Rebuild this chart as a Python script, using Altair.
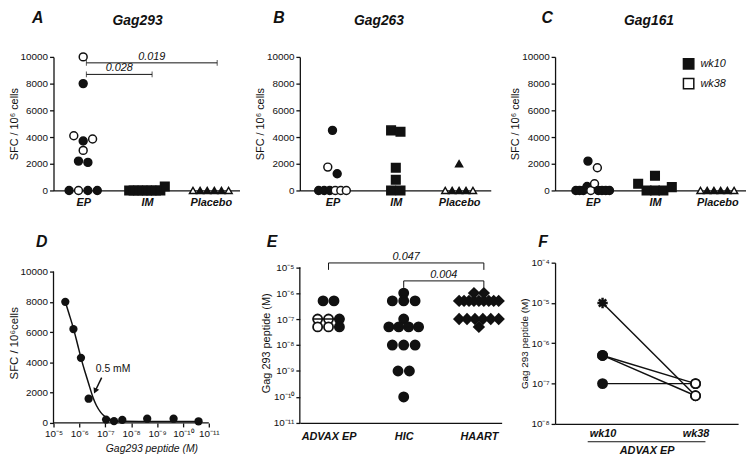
import math
import statistics
import altair as alt
import pandas as pd

FONT = "Liberation Sans"
INK = "#111111"

# ---------------- data ----------------
CATS_ABC = ["EP", "IM", "Placebo"]

A_EP = [10000, 8000, 4100, 3700, 3850, 3000, 2200, 2100, 0, 0, 0, 0]
A_EP_WK = ["wk38", "wk10", "wk38", "wk10", "wk38", "wk38", "wk10", "wk10", "wk10", "wk38", "wk10", "wk10"]
A_IM = [0, 0, 0, 0, 0, 0, 0, 0, 300]
A_IM_WK = ["wk10"] * 9
A_PL = [0, 0, 0, 0, 0, 0]
A_PL_WK = ["wk38", "wk10", "wk10", "wk10", "wk10", "wk38"]
A_BR_FROM = [0.05, 0.05]
A_BR_TO = [1.08, 2.1]
A_BR_Y = [8690, 9555]
A_BR_P = ["0.028", "0.019"]

B_EP = [4500, 1750, 1250, 0, 0, 0, 0, 0, 0]
B_EP_WK = ["wk10", "wk38", "wk10", "wk10", "wk10", "wk10", "wk38", "wk38", "wk38"]
B_IM = [4500, 4400, 1700, 800, 0, 0]
B_IM_WK = ["wk10"] * 6
B_PL = [2000, 0, 0, 0, 0, 0]
B_PL_WK = ["wk10", "wk38", "wk10", "wk10", "wk10", "wk38"]

C_EP = [2200, 1700, 0, 0, 0, 300, 0, 500, 0, 0, 0, 0]
C_EP_WK = ["wk10", "wk38", "wk10", "wk10", "wk10", "wk10", "wk38", "wk38", "wk10", "wk10", "wk10", "wk10"]
C_IM = [500, 1100, 0, 0, 0, 250]
C_IM_WK = ["wk10"] * 6
C_PL = [0, 0, 0, 0, 0, 0]
C_PL_WK = ["wk38", "wk10", "wk10", "wk10", "wk10", "wk38"]

# Panel D: dose response
D_CONC = [3.5e-6, 1.7e-6, 8.7e-7, 4.4e-7, 9.3e-8, 4.6e-8, 2.2e-8, 2.4e-9, 2.3e-10, 2.5e-11]
D_SFC = [8000, 6200, 4300, 1600, 220, 120, 200, 280, 280, 110]
D_FIT_CONC = [3.5e-6, 2.5e-6, 1.7e-6, 1.2e-6, 8.7e-7, 6.0e-7, 4.4e-7, 3.0e-7, 2.2e-7,
              1.5e-7, 1.0e-7, 7.0e-8, 4.0e-8, 2.0e-8, 5.0e-9, 1.0e-10, 2.5e-11]
D_FIT_SFC = [8000, 7200, 6250, 5250, 4300, 3350, 2600, 1700, 1150,
             700, 400, 250, 150, 110, 100, 100, 100]
D_ARROW_FROM = (1.38e-7, 2990)
D_ARROW_TO = (2.45e-7, 2110)
D_NOTE = (5.0e-8, 3575, "0.5 mM")

# Panel E: Gag 293 peptide (M)
CATS_E = ["ADVAX EP", "HIC", "HAART"]
E_EP = [5e-7, 5e-7, 1e-7, 1e-7, 1e-7, 5e-8, 5e-8, 5e-8]
E_EP_WK = ["wk10", "wk10", "wk38", "wk38", "wk10", "wk38", "wk38", "wk10"]
E_HIC = [1e-6, 5e-7, 5e-7, 5e-7, 1e-7, 5e-8, 5e-8, 5e-8, 5e-8, 1e-8, 1e-8, 1e-8, 1e-9, 1e-9, 1e-10]
E_HAART = [1e-6, 1e-6, 5e-7, 5e-7, 5e-7, 5e-7, 5e-7, 5e-7, 5e-7, 5e-7, 5e-7,
           1e-7, 1e-7, 1e-7, 1e-7, 1e-7, 1e-7, 5e-8]
E_BR_FROM = [0, 1]
E_BR_TO = [2.066, 2.066]
E_BR_Y = [1.45e-5, 2.95e-6]
E_BR_P = ["0.047", "0.004"]

# Panel F: paired wk10 / wk38
CATS_F = ["wk10", "wk38"]
F_WK10 = [1e-5, 5e-7, 5e-7, 1e-7]
F_WK38 = [5e-8, 1e-7, 5e-8, 1e-7]
F_MARK = ["star", "circle", "circle", "circle"]

# ---------------- helpers ----------------
FILL = alt.Scale(domain=["wk10", "wk38"], range=[INK, "white"])
SUP = str.maketrans("-0123456789", "⁻⁰¹²³⁴⁵⁶⁷⁸⁹")
STAR = "M-1,0L1,0M0,-1L0,1M-0.71,-0.71L0.71,0.71M-0.71,0.71L0.71,-0.71"


def pow_expr(exps):
    parts = [f"round(log(datum.value) / LN10) == {e} ? '10{str(e).translate(SUP)}'" for e in exps]
    return " : ".join(parts) + " : ''"


def cat_expr(cats):
    parts = [f"datum.value == {i} ? '{c}'" for i, c in enumerate(cats)]
    return " : ".join(parts) + " : ''"


def spread_offsets(vals, thresh, maxsp, maxspan):
    order = sorted(range(len(vals)), key=lambda i: vals[i])
    clusters = []
    for i in order:
        if clusters and vals[i] - vals[clusters[-1][0]] <= thresh:
            clusters[-1].append(i)
        else:
            clusters.append([i])
    offs = [0.0] * len(vals)
    for c in clusters:
        c.sort()
        n = len(c)
        sp = maxsp if n < 2 else min(maxsp, maxspan / (n - 1))
        for k, i in enumerate(c):
            offs[i] = (k - (n - 1) / 2) * sp
    return offs


def note(text, x, y, size, weight="normal", style="normal", align="center", baseline="alphabetic"):
    return alt.Chart(pd.DataFrame({"t": [text]})).mark_text(
        font=FONT, fontSize=size, fontWeight=weight, fontStyle=style,
        align=align, baseline=baseline, color=INK
    ).encode(text="t:N", x=alt.value(x), y=alt.value(y))


one = pd.DataFrame({"k": [0]})


def dot_panel(groups, W, first, step, span, letter, letter_dx, title, title_dx,
              brackets=None, legend=False):
    H = 135
    xs = alt.Scale(domain=[-first / step, (W - first) / step], nice=False, zero=False)
    ys = alt.Scale(domain=[0, 10000], nice=False)
    xaxis = alt.Axis(values=[0, 1, 2], labelExpr=cat_expr(CATS_ABC), ticks=False, title=None,
                     labelFontSize=11, labelFontWeight="bold", labelFontStyle="italic", labelPadding=6)
    yaxis = alt.Axis(values=[0, 2000, 4000, 6000, 8000, 10000], format="d",
                     title="SFC / 10⁶ cells", titleFontSize=11, titlePadding=1,
                     tickSize=4, labelPadding=2)
    if legend:
        fleg = alt.Legend(orient="none", legendX=129, legendY=1, title=None,
                          symbolType="square", symbolSize=110, symbolStrokeColor=INK,
                          symbolStrokeWidth=1.5, labelFont=FONT, labelFontSize=11,
                          labelFontStyle="italic", labelColor=INK, labelOffset=6,
                          rowPadding=2, padding=0)
    else:
        fleg = None
    layers = []
    for gi, (vals, wks, shape, size) in enumerate(groups):
        offs = spread_offsets(vals, 550, 9.5, span)
        df = pd.DataFrame({"x": [gi + o / step for o in offs], "v": vals, "wk": wks})
        layers.append(alt.Chart(df).mark_point(
            shape=shape, size=size, filled=True, stroke=INK, strokeWidth=1.5, opacity=1
        ).encode(
            x=alt.X("x:Q", scale=xs, axis=xaxis),
            y=alt.Y("v:Q", scale=ys, axis=yaxis),
            fill=alt.Fill("wk:N", scale=FILL, legend=fleg),
        ))
    if brackets:
        x1s, x2s, yv, ps = brackets
        bdf = pd.DataFrame({"x1": x1s, "x2": x2s, "y": yv, "p": ps})
        bdf["xm"] = (bdf["x1"] + bdf["x2"]) / 2
        ends = pd.DataFrame({"xe": list(x1s) + list(x2s), "y": list(yv) + list(yv)})
        layers.append(alt.Chart(bdf).mark_rule(color=INK, strokeWidth=1).encode(
            x=alt.X("x1:Q", scale=xs, axis=xaxis), x2="x2:Q",
            y=alt.Y("y:Q", scale=ys, axis=yaxis)))
        layers.append(alt.Chart(ends).mark_tick(orient="vertical", size=6, thickness=1, color=INK).encode(
            x=alt.X("xe:Q", scale=xs, axis=xaxis), y=alt.Y("y:Q", scale=ys, axis=yaxis)))
        layers.append(alt.Chart(bdf).mark_text(
            font=FONT, fontSize=11, fontStyle="italic", baseline="bottom", dy=-1, color=INK
        ).encode(x=alt.X("xm:Q", scale=xs, axis=xaxis), y=alt.Y("y:Q", scale=ys, axis=yaxis), text="p:N"))
    layers.append(note(letter, letter_dx, -34, 16, "bold", "italic"))
    layers.append(note(title, title_dx, -32, 14, "bold", "italic"))
    return alt.layer(*layers).properties(width=W, height=H)


pA = dot_panel([(A_EP, A_EP_WK, "circle", 64), (A_IM, A_IM_WK, "square", 75),
                (A_PL, A_PL_WK, "triangle-up", 50)],
               W=188, first=30, step=64.5, span=36, letter="A", letter_dx=-16,
               title="Gag293", title_dx=85,
               brackets=(A_BR_FROM, A_BR_TO, A_BR_Y, A_BR_P))
pB = dot_panel([(B_EP, B_EP_WK, "circle", 64), (B_IM, B_IM_WK, "square", 75),
                (B_PL, B_PL_WK, "triangle-up", 50)],
               W=193, first=33, step=64, span=28, letter="B", letter_dx=-21,
               title="Gag263", title_dx=80)
pC = dot_panel([(C_EP, C_EP_WK, "circle", 64), (C_IM, C_IM_WK, "square", 75),
                (C_PL, C_PL_WK, "triangle-up", 50)],
               W=193, first=38, step=63, span=34, letter="C", letter_dx=-8,
               title="Gag161", title_dx=95, legend=True)

# ---------------- Panel D ----------------
D_AX_W, D_W, D_H = 157, 195, 162
D_PX_DEC = D_AX_W / 6
dxs = alt.Scale(type="log", domain=[10 ** (-5 - D_W / D_PX_DEC), 1e-5], reverse=True, nice=False)
dys = alt.Scale(domain=[0, 10000 * D_H / 153], nice=False)
dxaxis = alt.Axis(values=[10.0 ** e for e in range(-5, -12, -1)], labelExpr=pow_expr(range(-5, -12, -1)),
                  domain=False, tickSize=4, labelPadding=2, title="Gag293 peptide  (M)",
                  titleFontStyle="italic", titleFontSize=10.5, titleX=99, titlePadding=5)
dyaxis = alt.Axis(values=[0, 2000, 4000, 6000, 8000, 10000], format="d", domain=False,
                  title="SFC / 10⁶cells", titleFontSize=11.5, titlePadding=1, tickSize=4, labelPadding=2)
d_pts = pd.DataFrame({"c": D_CONC, "s": D_SFC})
d_fit = pd.DataFrame({"c": D_FIT_CONC, "s": D_FIT_SFC})
d_arrow = pd.DataFrame({"c": [D_ARROW_FROM[0]], "s": [D_ARROW_FROM[1]],
                        "c2": [D_ARROW_TO[0]], "s2": [D_ARROW_TO[1]]})
d_note = pd.DataFrame({"c": [D_NOTE[0]], "s": [D_NOTE[1]], "t": [D_NOTE[2]]})
pD = alt.layer(
    alt.Chart(d_fit).mark_line(interpolate="monotone", color=INK, strokeWidth=1.5).encode(
        x=alt.X("c:Q", scale=dxs, axis=dxaxis), y=alt.Y("s:Q", scale=dys, axis=dyaxis)),
    alt.Chart(d_pts).mark_circle(size=70, color=INK, opacity=1).encode(
        x=alt.X("c:Q", scale=dxs, axis=dxaxis), y=alt.Y("s:Q", scale=dys, axis=dyaxis)),
    alt.Chart(one).mark_rule(color=INK, strokeWidth=1.3).encode(
        x=alt.value(0), y=alt.datum(0, axis=dyaxis), y2=alt.datum(10000)),
    alt.Chart(one).mark_rule(color=INK, strokeWidth=1.3).encode(
        x=alt.datum(1e-5, axis=dxaxis), x2=alt.datum(1e-11), y=alt.value(D_H)),
    alt.Chart(d_arrow).mark_rule(color=INK, strokeWidth=1.5).encode(
        x=alt.X("c:Q", scale=dxs, axis=dxaxis), y=alt.Y("s:Q", scale=dys, axis=dyaxis),
        x2="c2:Q", y2="s2:Q"),
    alt.Chart(d_arrow).mark_point(shape="triangle-up", filled=True, size=40, angle=205,
                                  color=INK, opacity=1).encode(
        x=alt.X("c2:Q", scale=dxs, axis=dxaxis), y=alt.Y("s2:Q", scale=dys, axis=dyaxis)),
    alt.Chart(d_note).mark_text(font=FONT, fontSize=10.5, color=INK).encode(
        x=alt.X("c:Q", scale=dxs, axis=dxaxis), y=alt.Y("s:Q", scale=dys, axis=dyaxis), text="t:N"),
    note("D", -12, -16, 16, "bold", "italic"),
).properties(width=D_W, height=D_H)

# ---------------- Panel E ----------------
E_W, E_H, E_FIRST, E_STEP = 204, 162, 29, 76
E_TOP = 10 ** (-5 + 4.5 / 26.25)
exs = alt.Scale(domain=[-E_FIRST / E_STEP, (E_W - E_FIRST) / E_STEP], nice=False, zero=False)
eys = alt.Scale(type="log", domain=[1e-11, E_TOP], nice=False)
exaxis = alt.Axis(values=[0, 1, 2], labelExpr=cat_expr(CATS_E), ticks=False, title=None,
                  labelFontSize=11, labelFontWeight="bold", labelFontStyle="italic", labelPadding=8)
eyaxis = alt.Axis(values=[10.0 ** e for e in range(-11, -4)], labelExpr=pow_expr(range(-11, -4)),
                  domain=False, title="Gag 293 peptide (M)", titleFontSize=11, titlePadding=1,
                  tickSize=4, labelPadding=2)
e_groups = [(E_EP, E_EP_WK, "circle", 85, 11, 22),
            (E_HIC, ["wk10"] * len(E_HIC), "circle", 85, 11.5, 30),
            (E_HAART, ["wk10"] * len(E_HAART), "diamond", 100, 10, 40)]
e_layers = []
med_rows = []
for gi, (vals, wks, shape, size, maxsp, span) in enumerate(e_groups):
    lv = [math.log10(v) for v in vals]
    offs = spread_offsets(lv, 0.1, maxsp, span)
    df = pd.DataFrame({"x": [gi + o / E_STEP for o in offs], "v": vals, "wk": wks})
    e_layers.append(alt.Chart(df).mark_point(
        shape=shape, size=size, filled=True, stroke=INK, strokeWidth=1.8, opacity=1
    ).encode(x=alt.X("x:Q", scale=exs, axis=exaxis), y=alt.Y("v:Q", scale=eys, axis=eyaxis),
             fill=alt.Fill("wk:N", scale=FILL, legend=None)))
    hw = (max(abs(o) for o in offs) + 5) / E_STEP
    med_rows.append({"x1": gi - hw, "x2": gi + hw, "m": statistics.median(vals)})
e_layers.append(alt.Chart(pd.DataFrame(med_rows)).mark_rule(color=INK, strokeWidth=1.5).encode(
    x=alt.X("x1:Q", scale=exs, axis=exaxis), x2="x2:Q", y=alt.Y("m:Q", scale=eys, axis=eyaxis)))
e_layers.append(alt.Chart(one).mark_rule(color=INK, strokeWidth=1.3).encode(
    x=alt.value(0), y=alt.datum(1e-11, axis=eyaxis), y2=alt.datum(1e-5)))
drop = 10 ** (-7 / 26.25)
ebr = pd.DataFrame({"x1": E_BR_FROM, "x2": E_BR_TO, "y": E_BR_Y, "p": E_BR_P})
ebr["xm"] = (ebr["x1"] + ebr["x2"]) / 2
eends = pd.DataFrame({"xe": E_BR_FROM + E_BR_TO, "y": E_BR_Y + E_BR_Y})
eends["y2"] = eends["y"] * drop
e_layers += [
    alt.Chart(ebr).mark_rule(color=INK, strokeWidth=1).encode(
        x=alt.X("x1:Q", scale=exs, axis=exaxis), x2="x2:Q", y=alt.Y("y:Q", scale=eys, axis=eyaxis)),
    alt.Chart(eends).mark_rule(color=INK, strokeWidth=1).encode(
        x=alt.X("xe:Q", scale=exs, axis=exaxis), y=alt.Y("y:Q", scale=eys, axis=eyaxis), y2="y2:Q"),
    alt.Chart(ebr).mark_text(font=FONT, fontSize=11, fontStyle="italic", baseline="bottom",
                             dy=-1, color=INK).encode(
        x=alt.X("xm:Q", scale=exs, axis=exaxis), y=alt.Y("y:Q", scale=eys, axis=eyaxis), text="p:N"),
    note("E", -28, -16, 16, "bold", "italic"),
]
pE = alt.layer(*e_layers).properties(width=E_W, height=E_H)

# ---------------- Panel F ----------------
F_W, F_H, F_FIRST, F_STEP = 185, 163, 48, 94
fxs = alt.Scale(domain=[-F_FIRST / F_STEP, (F_W - F_FIRST) / F_STEP], nice=False, zero=False)
fys = alt.Scale(type="log", domain=[1e-8, 1e-4], nice=False)
fxaxis = alt.Axis(values=[0, 1], labelExpr=cat_expr(CATS_F), ticks=False, labelFontSize=11,
                  labelFontWeight="bold", labelFontStyle="italic", labelPadding=4,
                  title="ADVAX EP", titleFontSize=11, titleFontWeight="bold",
                  titleFontStyle="italic", titlePadding=6)
fyaxis = alt.Axis(values=[10.0 ** e for e in range(-8, -3)], labelExpr=pow_expr(range(-8, -3)),
                  title="Gag 293 peptide (M)", titleFontSize=10, titlePadding=1, tickSize=4, labelPadding=2)
f_lines = pd.DataFrame({
    "sub": list(range(len(F_WK10))) * 2,
    "x": [0] * len(F_WK10) + [1] * len(F_WK38),
    "v": F_WK10 + F_WK38,
})
f_star = pd.DataFrame({"x": [0 for m in F_MARK if m == "star"],
                       "v": [v for v, m in zip(F_WK10, F_MARK) if m == "star"]})
f_circ = pd.DataFrame({
    "x": [0 for m in F_MARK if m == "circle"] + [1] * len(F_WK38),
    "v": [v for v, m in zip(F_WK10, F_MARK) if m == "circle"] + F_WK38,
    "wk": ["wk10" for m in F_MARK if m == "circle"] + ["wk38"] * len(F_WK38),
})
under_px = (-15, 10)
pF = alt.layer(
    alt.Chart(f_lines).mark_line(color=INK, strokeWidth=1.5).encode(
        x=alt.X("x:Q", scale=fxs, axis=fxaxis), y=alt.Y("v:Q", scale=fys, axis=fyaxis), detail="sub:N"),
    alt.Chart(f_star).mark_point(shape=STAR, size=110, filled=False, strokeWidth=2.5,
                                 color=INK, opacity=1).encode(
        x=alt.X("x:Q", scale=fxs, axis=fxaxis), y=alt.Y("v:Q", scale=fys, axis=fyaxis)),
    alt.Chart(f_circ).mark_point(shape="circle", size=85, filled=True, stroke=INK,
                                 strokeWidth=1.8, opacity=1).encode(
        x=alt.X("x:Q", scale=fxs, axis=fxaxis), y=alt.Y("v:Q", scale=fys, axis=fyaxis),
        fill=alt.Fill("wk:N", scale=FILL, legend=None)),
    alt.Chart(one).mark_rule(color=INK, strokeWidth=1).encode(
        x=alt.datum(0 + under_px[0] / F_STEP, axis=fxaxis), x2=alt.datum(1 + under_px[1] / F_STEP),
        y=alt.value(F_H + 18)),
    note("F", -12, -16, 16, "bold", "italic"),
).properties(width=F_W, height=F_H)

chart = alt.concat(
    pA, pB, pC, pD, pE, pF, columns=3,
    spacing={"row": 73, "column": 54}, bounds="flush", align="none"
).resolve_scale(
    fill="independent"
).properties(
    padding={"left": 0, "top": 0, "right": 0, "bottom": 0}
).configure_axis(
    labelFont=FONT, titleFont=FONT, labelColor=INK, titleColor=INK, domainColor=INK,
    tickColor=INK, domainWidth=1.3, tickWidth=1.3, grid=False, labelFontSize=10,
    titleFontWeight="normal", labelFlush=False, labelOverlap=False
).configure_view(stroke=None)

chart.save("out.html", embed_options={"renderer": "svg", "actions": False})
